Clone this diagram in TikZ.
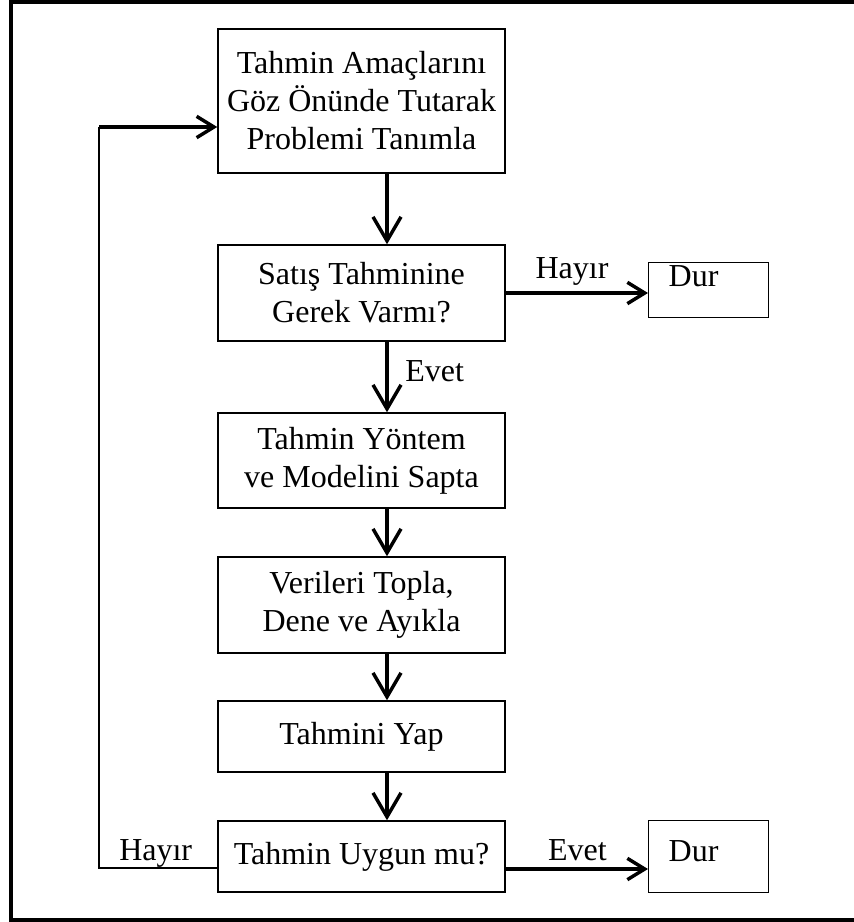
\documentclass[tikz,border=0pt]{standalone}
\usepackage{fontspec}
\setmainfont{Liberation Serif}
\usetikzlibrary{arrows.meta}
\begin{document}
\begin{tikzpicture}[x=0.75pt,y=-0.75pt,
  every node/.style={font=\fontsize{24}{28.5}\selectfont},
  box/.style={draw, line width=1.1pt, minimum width=215.25pt, align=center, inner sep=0pt},
  durbox/.style={draw, line width=1.1pt, anchor=north west, inner ysep=0pt, inner xsep=15pt, text width=60pt, align=left},
  lbl/.style={inner sep=0pt},
  varrow/.style={line width=2.6pt, -{Straight Barb[length=18pt,width=21pt]}},
  harrow/.style={line width=2.6pt, -{Straight Barb[length=13pt,width=16pt]}},
  thinline/.style={line width=1.2pt}
]
\useasboundingbox (0,0) rectangle (854,922);
\draw[line width=3pt] (854,2) -- (11,2) -- (11,919.5) -- (854,919.5);

\node[box, minimum height=108pt] (b1) at (361.5,101) {Tahmin Amaçlarını\\Göz Önünde Tutarak\\Problemi Tanımla};
\node[box, minimum height=72pt] (b2) at (361.5,293) {Satış Tahminine\\Gerek Varmı?};
\node[box, minimum height=71.25pt] (b3) at (361.5,460.5) {Tahmin Yöntem\\ve Modelini Sapta};
\node[box, minimum height=72pt] (b4) at (361.5,605) {Verileri Topla,\\Dene ve Ayıkla};
\node[box, minimum height=53.25pt] (b5) at (361.5,736.5) {Tahmini Yap};
\node[box, minimum height=53.25pt] (b6) at (361.5,856.5) {Tahmin Uygun mu?};

\node[durbox, text height=18pt, text depth=23.25pt] (d1) at (648,262) {Dur};
\node[durbox, text height=30.75pt, text depth=23.25pt] (d2) at (648,820) {Dur};

\coordinate (ax) at (387,0);
\draw[varrow] (b1.south -| ax) -- (b2.north -| ax);
\draw[varrow] (b2.south -| ax) -- (b3.north -| ax);
\draw[varrow] (b3.south -| ax) -- (b4.north -| ax);
\draw[varrow] (b4.south -| ax) -- (b5.north -| ax);
\draw[varrow] (b5.south -| ax) -- (b6.north -| ax);

\draw[harrow] (b2.east) -- (d1.west |- b2.east);
\coordinate (e2) at (0,869);
\draw[harrow] (b6.east |- e2) -- (d2.west |- e2);

\coordinate (l1) at (99,868);
\coordinate (l2) at (99,127);
\draw[thinline] (b6.west |- l1) -- (l1) -- (l2);
\draw[harrow] (l2) -- (b1.west |- l2);

\node[lbl, anchor=base] (h1) at (572,278) {Hayır};
\node[lbl, anchor=base west] (ev1) at (405,381) {Evet};
\node[lbl, anchor=base] (ev2) at (577.5,860) {Evet};
\node[lbl, anchor=base west] (h2) at (119,860) {Hayır};
\end{tikzpicture}
\end{document}
